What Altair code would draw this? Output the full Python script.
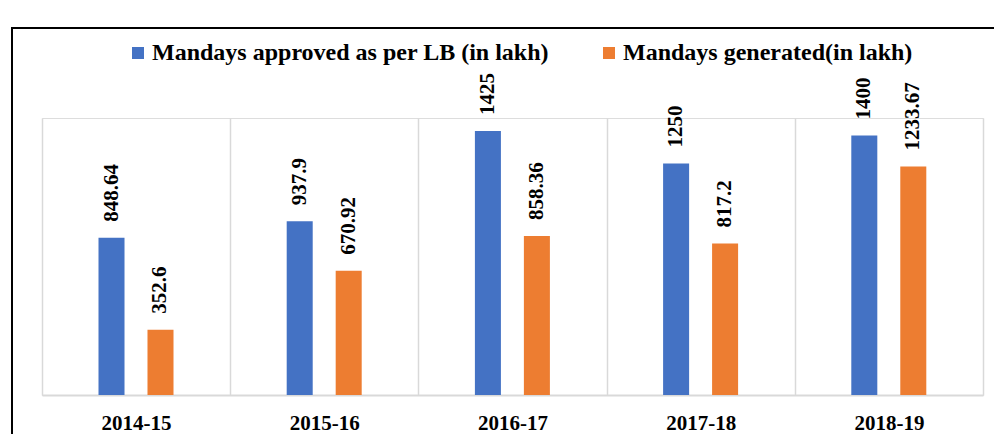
import altair as alt
import pandas as pd

years = ["2014-15", "2015-16", "2016-17", "2017-18", "2018-19"]
approved = [848.64, 937.9, 1425, 1250, 1400]
generated = [352.6, 670.92, 858.36, 817.2, 1233.67]
series_names = ["Mandays approved   as per  LB (in lakh)", "Mandays  generated(in lakh)"]
series_colors = ["#4472C4", "#ED7D31"]

rows = []
for i, y in enumerate(years):
    rows.append({"year": y, "series": series_names[0], "value": approved[i], "label": f"{approved[i]:g}"})
    rows.append({"year": y, "series": series_names[1], "value": generated[i], "label": f"{generated[i]:g}"})
df = pd.DataFrame(rows)

FONT = "Liberation Serif"

x_enc = alt.X("year:N", sort=years, scale=alt.Scale(paddingInner=0, paddingOuter=0),
              axis=alt.Axis(title=None, grid=True, gridColor="#d9d9d9", gridWidth=1.5,
                            tickBand="extent", ticks=False, domainColor="#d9d9d9", domainWidth=2,
                            labelFont=FONT, labelFontSize=21, labelFontWeight="bold",
                            labelColor="black", labelPadding=17, labelAngle=0))
xo_enc = alt.XOffset("series:N", sort=series_names,
                     scale=alt.Scale(paddingInner=0.469, paddingOuter=0, range=[56.5, 131.5]))
y_enc = alt.Y("value:Q", scale=alt.Scale(domain=[0, 1495], nice=False), axis=None)

base = alt.Chart(df)

bars = base.mark_bar().encode(
    x=x_enc, xOffset=xo_enc, y=y_enc,
    color=alt.Color("series:N", sort=series_names,
                    scale=alt.Scale(domain=series_names, range=series_colors),
                    legend=alt.Legend(title=None, orient="none", legendX=84, legendY=-77,
                                      direction="horizontal", symbolType="square",
                                      symbolSize=144, symbolStrokeWidth=0,
                                      labelFont=FONT, labelFontSize=24, labelFontWeight="bold",
                                      labelColor="black", labelOffset=2, columnPadding=30,
                                      labelLimit=0, padding=0)),
)

labels = base.mark_text(angle=270, align="left", baseline="middle", dx=16,
                        font=FONT, fontSize=21, fontWeight="bold", color="black").encode(
    x=x_enc, xOffset=xo_enc, y=y_enc, text="label:N"
)

frame_df = pd.DataFrame({"f": [0]})
frame_left = alt.Chart(frame_df).mark_rule(color="black", strokeWidth=2).encode(
    x=alt.value(-30), y=alt.value(-90), y2=alt.value(316)
)
frame_top = alt.Chart(frame_df).mark_rule(color="black", strokeWidth=2).encode(
    x=alt.value(-31), x2=alt.value(952), y=alt.value(-90)
)

chart = alt.layer(frame_left, frame_top, bars, labels).properties(
    width=941, height=277,
    autosize=alt.AutoSizeParams(type="none"),
    padding={"left": 34, "top": 110, "right": 12, "bottom": 40},
).configure_view(stroke=None).configure(background="white")

chart.save("out.html", embed_options={"renderer": "svg", "actions": False})
